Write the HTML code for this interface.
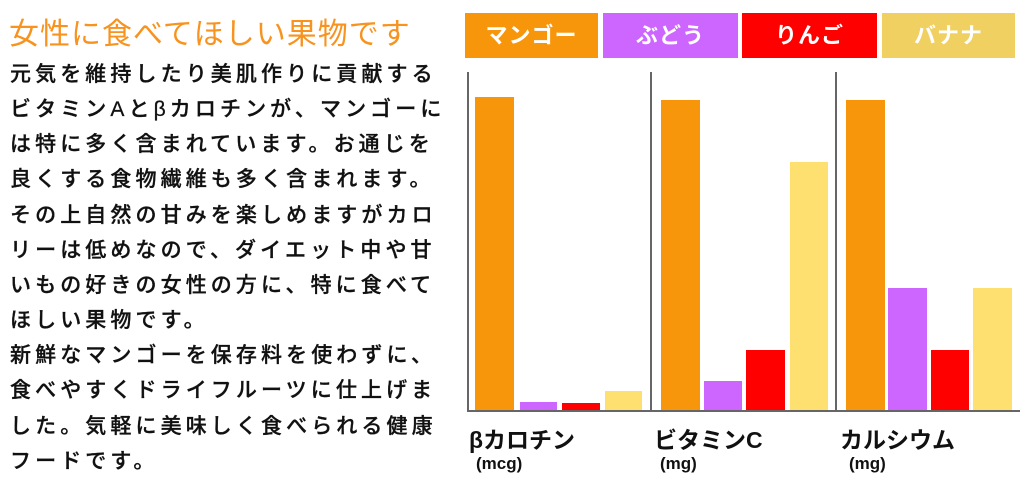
<!DOCTYPE html>
<html><head><meta charset="utf-8"><style>
body{margin:0;width:1022px;height:492px;background:#fff;position:relative;overflow:hidden;font-family:"Liberation Sans","Noto Sans CJK JP",sans-serif}
.t{position:absolute;left:9px;top:9px;font-size:30px;color:#f7931e;white-space:nowrap;letter-spacing:1px}
.l{position:absolute;left:10px;font-size:21px;letter-spacing:4.1px;color:#111;white-space:nowrap;line-height:24px;font-weight:500;-webkit-text-stroke:0.3px #111}
.b{position:absolute}
.lg{position:absolute;top:13px;height:45px;color:#fff;font-weight:bold;font-size:22px;text-align:center;line-height:45px;letter-spacing:1px}
.v{position:absolute;width:2px;background:#666;top:72px;height:340px}
.lab{position:absolute;font-weight:bold;font-size:23px;color:#111;white-space:nowrap}
.u{position:absolute;font-weight:bold;font-size:17px;color:#111}
</style></head><body>
<div class="t">女性に食べてほしい果物です</div>
<div class="l" style="top:63px">元気を維持したり美肌作りに貢献する</div>
<div class="l" style="top:98px">ビタミンAとβカロチンが、マンゴーに</div>
<div class="l" style="top:133px">は特に多く含まれています。お通じを</div>
<div class="l" style="top:168px">良くする食物繊維も多く含まれます。</div>
<div class="l" style="top:204px">その上自然の甘みを楽しめますがカロ</div>
<div class="l" style="top:239px">リーは低めなので、ダイエット中や甘</div>
<div class="l" style="top:274px">いもの好きの女性の方に、特に食べて</div>
<div class="l" style="top:309px">ほしい果物です。</div>
<div class="l" style="top:344px">新鮮なマンゴーを保存料を使わずに、</div>
<div class="l" style="top:379px">食べやすくドライフルーツに仕上げま</div>
<div class="l" style="top:415px">した。気軽に美味しく食べられる健康</div>
<div class="l" style="top:450px">フードです。</div>

<div class="lg" style="left:465px;width:133px;background:#f7960a">マンゴー</div>
<div class="lg" style="left:603px;width:135px;background:#cc66ff">ぶどう</div>
<div class="lg" style="left:742px;width:135px;background:#ff0000">りんご</div>
<div class="lg" style="left:882px;width:133px;background:#f0d060">バナナ</div>

<div class="v" style="left:467px"></div>
<div class="v" style="left:650px"></div>
<div class="v" style="left:835px"></div>
<div class="b" style="left:467px;top:410px;width:553px;height:2px;background:#666"></div>

<div class="b" style="left:475px;top:97px;width:39px;height:313px;background:#f7960a"></div>
<div class="b" style="left:520px;top:402px;width:37px;height:8px;background:#cc66ff"></div>
<div class="b" style="left:562px;top:403px;width:38px;height:7px;background:#ff0000"></div>
<div class="b" style="left:605px;top:391px;width:37px;height:19px;background:#fde070"></div>

<div class="b" style="left:661px;top:100px;width:39px;height:310px;background:#f7960a"></div>
<div class="b" style="left:704px;top:381px;width:38px;height:29px;background:#cc66ff"></div>
<div class="b" style="left:746px;top:350px;width:39px;height:60px;background:#ff0000"></div>
<div class="b" style="left:790px;top:162px;width:38px;height:248px;background:#fde070"></div>

<div class="b" style="left:846px;top:100px;width:39px;height:310px;background:#f7960a"></div>
<div class="b" style="left:888px;top:288px;width:39px;height:122px;background:#cc66ff"></div>
<div class="b" style="left:931px;top:350px;width:38px;height:60px;background:#ff0000"></div>
<div class="b" style="left:973px;top:288px;width:39px;height:122px;background:#fde070"></div>

<div class="lab" style="left:469px;top:421px">βカロチン</div>
<div class="lab" style="left:654px;top:421px">ビタミンC</div>
<div class="lab" style="left:840px;top:421px">カルシウム</div>
<div class="u" style="left:476px;top:454px">(mcg)</div>
<div class="u" style="left:660px;top:454px">(mg)</div>
<div class="u" style="left:849px;top:454px">(mg)</div>
</body></html>
